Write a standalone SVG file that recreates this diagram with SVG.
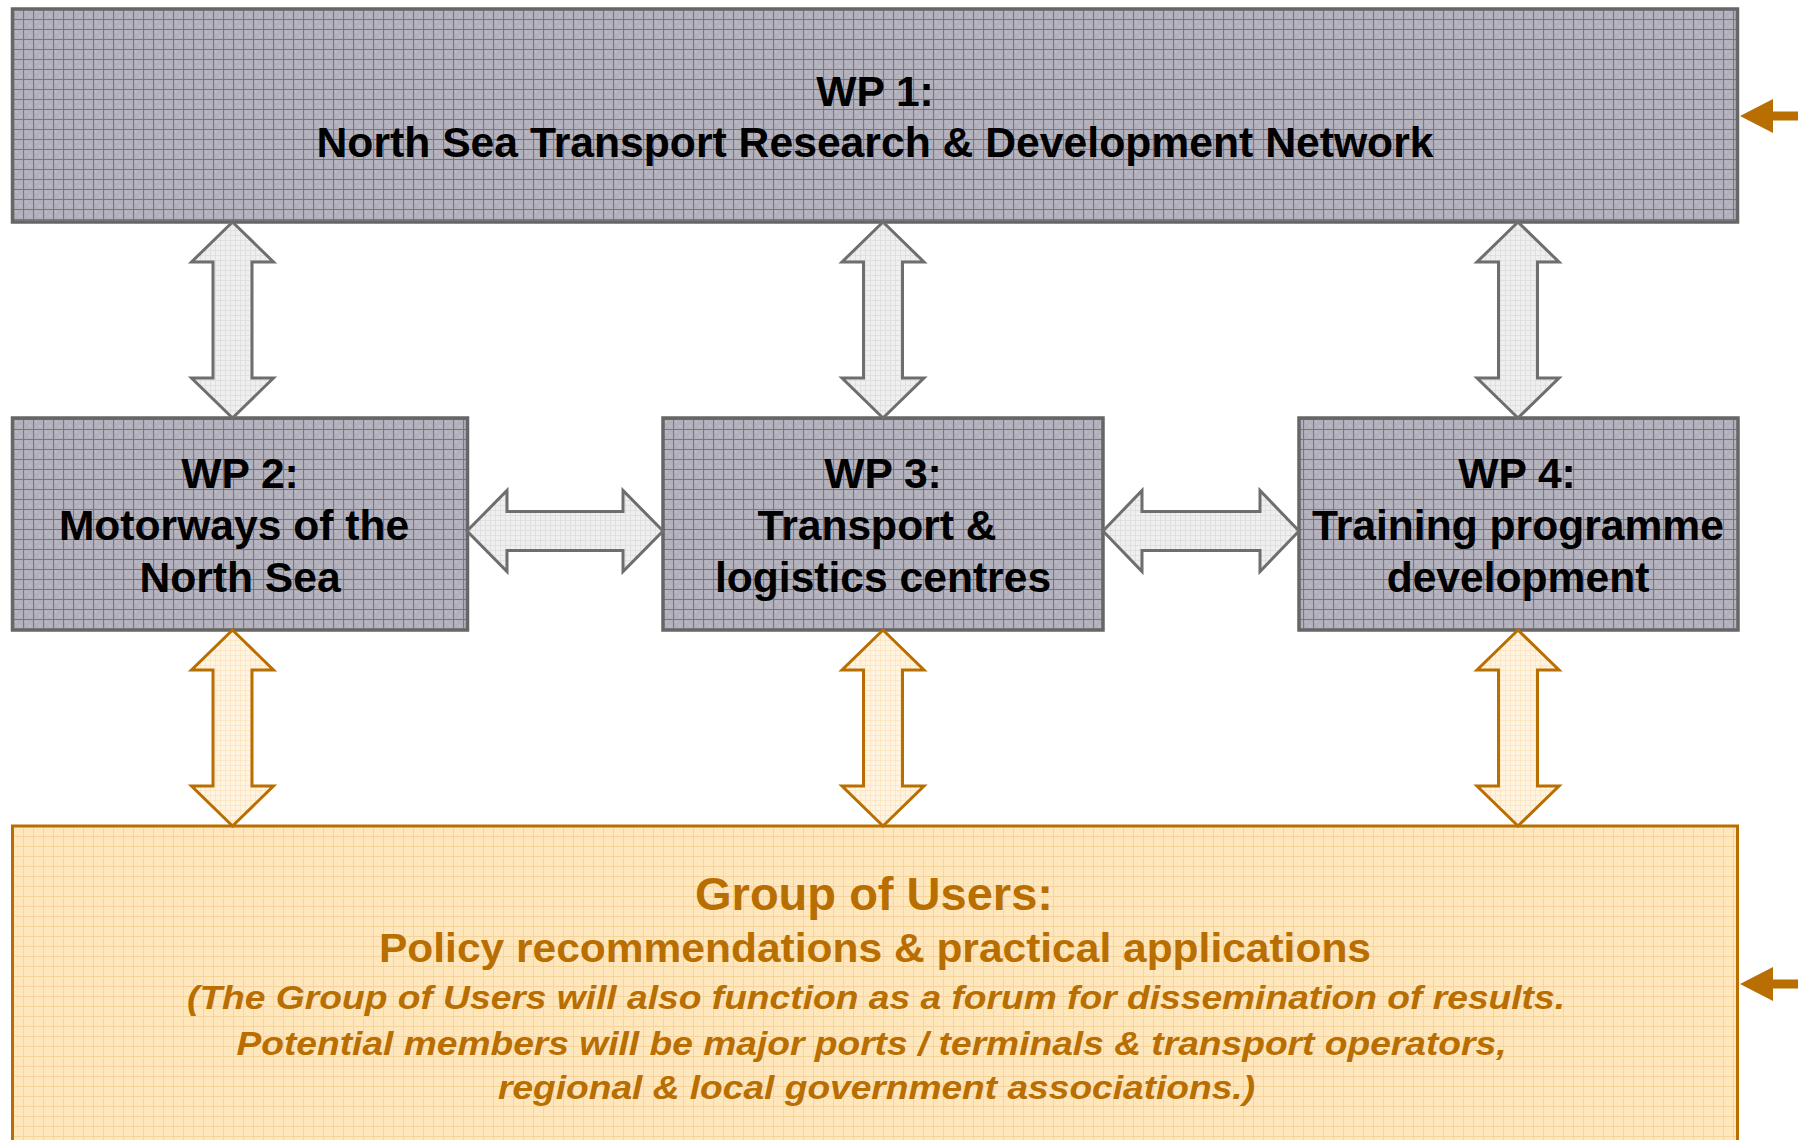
<svg xmlns="http://www.w3.org/2000/svg" width="1798" height="1140" viewBox="0 0 1798 1140">
<defs>
<pattern id="gridGray" patternUnits="userSpaceOnUse" x="3" y="9" width="10" height="10">
<rect width="10" height="10" fill="#b1b0bb"/>
<rect x="2" y="2" width="2" height="2" fill="#bdbcc6"/>
<rect x="6" y="6" width="2" height="2" fill="#bdbcc6"/>
<path d="M0 0.5H10M0.5 0V10" stroke="#77768a" stroke-width="1.2"/>
</pattern>
<pattern id="gridPeach" patternUnits="userSpaceOnUse" x="3" y="6" width="10" height="10">
<rect width="10" height="10" fill="#fee6bd"/>
<path d="M0 0.5H10M0.5 0V10" stroke="#f7d49c" stroke-width="1"/>
</pattern>
<pattern id="gridLight" patternUnits="userSpaceOnUse" width="5" height="5">
<rect width="5" height="5" fill="#efefef"/>
<path d="M0 0.5H5M0.5 0V5" stroke="#dcdcdc" stroke-width="0.8"/>
</pattern>
<pattern id="gridLightPeach" patternUnits="userSpaceOnUse" width="5" height="5">
<rect width="5" height="5" fill="#fff4e2"/>
<path d="M0 0.5H5M0.5 0V5" stroke="#fde3bd" stroke-width="0.8"/>
</pattern>
</defs>
<style>
.box{fill:url(#gridGray);stroke:#666;stroke-width:3.5}
.ubox{fill:url(#gridPeach);stroke:#b86e00;stroke-width:3}
.ga{fill:url(#gridLight);stroke:#6e6e6e;stroke-width:3;stroke-linejoin:miter}
.oa{fill:url(#gridLightPeach);stroke:#b86e00;stroke-width:3;stroke-linejoin:miter}
.side{fill:#b86e00}
.t{font-family:"Liberation Sans",Arial,sans-serif;font-weight:bold;font-size:42.6px;fill:#000;text-anchor:middle}
.u{font-family:"Liberation Sans",Arial,sans-serif;font-weight:bold;fill:#b86e00;text-anchor:middle}
.ui{font-style:italic;font-size:33px}
</style>

<g id="wp1">
<rect class="box" x="12.5" y="9" width="1725" height="213"/>
<text class="t" x="875" y="105.5">WP 1:</text>
<text class="t" x="875" y="156.5" textLength="1117" lengthAdjust="spacingAndGlyphs">North Sea Transport Research &amp; Development Network</text>
</g>

<g id="wp2">
<rect class="box" x="12.5" y="418" width="455" height="212"/>
<text class="t" x="240" y="488">WP 2:</text>
<text class="t" x="234" y="540">Motorways of the</text>
<text class="t" x="240" y="592">North Sea</text>
</g>

<g id="wp3">
<rect class="box" x="663" y="418" width="440" height="212"/>
<text class="t" x="883" y="488">WP 3:</text>
<text class="t" x="877" y="540">Transport &amp;</text>
<text class="t" x="883" y="592">logistics centres</text>
</g>

<g id="wp4">
<rect class="box" x="1299" y="418" width="439" height="212"/>
<text class="t" x="1517" y="488">WP 4:</text>
<text class="t" x="1518" y="540">Training programme</text>
<text class="t" x="1518" y="592">development</text>
</g>

<g id="users">
<rect class="ubox" x="12.5" y="826" width="1725" height="330"/>
<text class="u" x="874" y="910" font-size="46" textLength="358" lengthAdjust="spacingAndGlyphs">Group of Users:</text>
<text class="u" x="875" y="962" font-size="41" textLength="992" lengthAdjust="spacingAndGlyphs">Policy recommendations &amp; practical applications</text>
<text class="u ui" x="876" y="1009" textLength="1378" lengthAdjust="spacingAndGlyphs">(The Group of Users will also function as a forum for dissemination of results.</text>
<text class="u ui" x="871.5" y="1055" textLength="1270" lengthAdjust="spacingAndGlyphs">Potential members will be major ports / terminals &amp; transport operators,</text>
<text class="u ui" x="876.5" y="1099" textLength="757" lengthAdjust="spacingAndGlyphs">regional &amp; local government associations.)</text>
</g>

<g id="connectors">
<path class="ga" d="M232.5,222 L273.5,262 L252,262 L252,378 L273.5,378 L232.5,418 L191.5,378 L213,378 L213,262 L191.5,262 Z"/>
<path class="ga" d="M883,222 L924,262 L902.5,262 L902.5,378 L924,378 L883,418 L842,378 L863.5,378 L863.5,262 L842,262 Z"/>
<path class="ga" d="M1518,222 L1559,262 L1537.5,262 L1537.5,378 L1559,378 L1518,418 L1477,378 L1498.5,378 L1498.5,262 L1477,262 Z"/>

<path class="ga" d="M467,531 L507,490.5 L507,511.5 L623,511.5 L623,490.5 L663,531 L623,571.5 L623,550.5 L507,550.5 L507,571.5 Z"/>
<path class="ga" d="M1103,531 L1142,490.5 L1142,511.5 L1260,511.5 L1260,490.5 L1299,531 L1260,571.5 L1260,550.5 L1142,550.5 L1142,571.5 Z"/>

<path class="oa" d="M232.5,630 L273.5,670 L252,670 L252,786 L273.5,786 L232.5,826 L191.5,786 L213,786 L213,670 L191.5,670 Z"/>
<path class="oa" d="M883,630 L924,670 L902.5,670 L902.5,786 L924,786 L883,826 L842,786 L863.5,786 L863.5,670 L842,670 Z"/>
<path class="oa" d="M1518,630 L1559,670 L1537.5,670 L1537.5,786 L1559,786 L1518,826 L1477,786 L1498.5,786 L1498.5,670 L1477,670 Z"/>

<path class="side" d="M1740,116 L1773,99 L1773,111.5 L1798,111.5 L1798,120.5 L1773,120.5 L1773,133 Z"/>
<path class="side" d="M1740,984 L1773,967 L1773,979.5 L1798,979.5 L1798,988.5 L1773,988.5 L1773,1001 Z"/>
</g>
</svg>
